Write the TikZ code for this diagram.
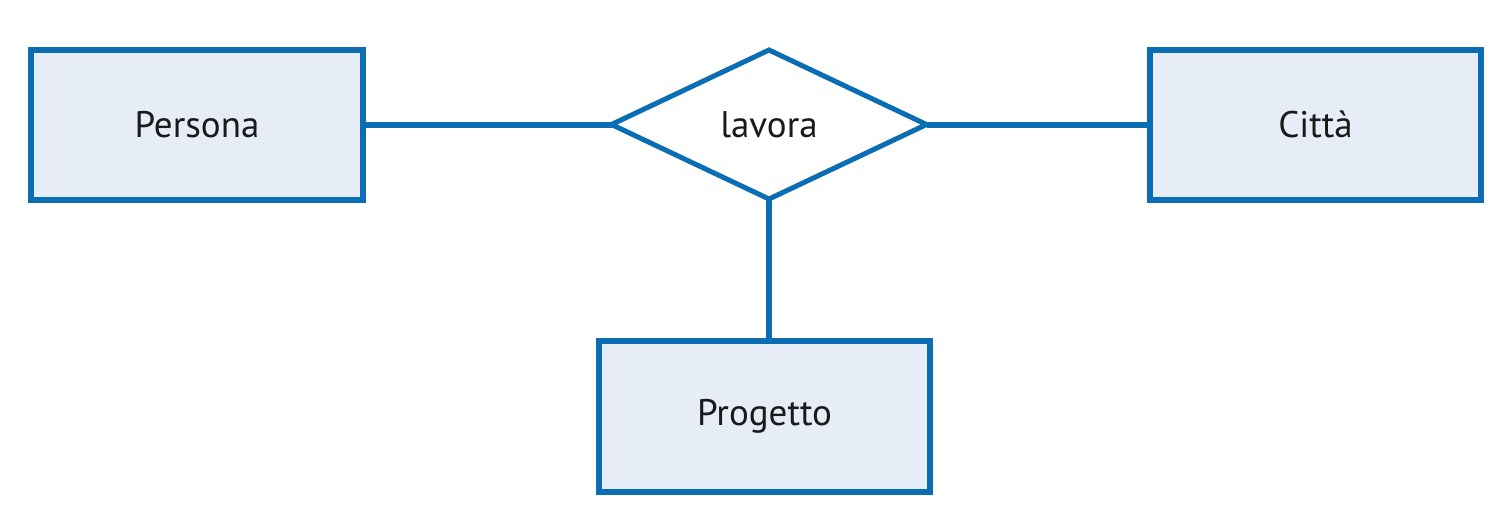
\documentclass[tikz,border=0pt]{standalone}
\usepackage{fontspec}
\setmainfont{PT Sans}
\usetikzlibrary{shapes.geometric}
\definecolor{erblue}{HTML}{0B6EB5}
\definecolor{erfill}{HTML}{E6EDF7}
\definecolor{ertext}{HTML}{1A1A1A}
\tikzset{
  entity/.style={draw=erblue, fill=erfill, line width=6pt, inner sep=0pt,
    outer sep=0pt, text=ertext, font=\fontsize{37}{42}\selectfont},
  relation/.style={diamond, draw=erblue, fill=white, line width=5pt, inner sep=0pt,
    outer sep=0pt, minimum width=315pt, minimum height=149pt, text=ertext,
    font=\fontsize{37}{42}\selectfont},
  link/.style={draw=erblue, line width=6pt}
}
\begin{document}
\begin{tikzpicture}[x=1pt, y=-1pt]
  \useasboundingbox (0,0) rectangle (1493,512);
  \fill[white] (0,0) rectangle (1493,512);
  % entities
  \node[entity, minimum width=332pt, minimum height=150pt] (persona) at (197,124.5) {Persona};
  \node[entity, minimum width=331pt, minimum height=150pt] (citta) at (1315.5,124.5) {Città};
  \node[entity, minimum width=331pt, minimum height=151pt] (progetto) at (764.5,416.5) {Progetto};
  % relationship
  \node[relation] (lavora) at (769,124.5) {lavora};
  % connectors
  \draw[link] (persona.east) -- (lavora.west);
  \draw[link] (lavora.east) -- (citta.west);
  \draw[link] (lavora.south) -- (lavora.south |- progetto.north);
\end{tikzpicture}
\end{document}
